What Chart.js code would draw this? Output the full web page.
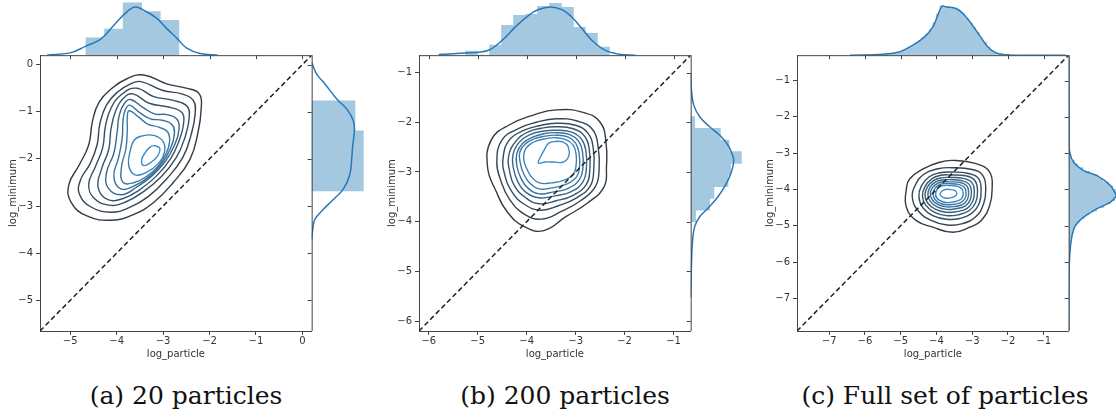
<!DOCTYPE html>
<html>
<head>
<meta charset="utf-8">
<script src="https://cdn.jsdelivr.net/npm/chart.js@4.4.1/dist/chart.umd.min.js"></script>
<style>
    html, body { margin: 0; padding: 0; background: #fff; width: 1116px; height: 417px; overflow: hidden; position: relative; }
    canvas { position: absolute; top: 0; }
    .caption { position: absolute; top: 382px; width: 372px; text-align: center; white-space: nowrap;
               font-family: "DejaVu Serif", serif; font-size: 25px; line-height: 28px; color: #111; }
</style>
</head>
<body>
<canvas id="chartA" width="372" height="365" style="left:-6px"></canvas>
<canvas id="chartB" width="372" height="365" style="left:373px"></canvas>
<canvas id="chartC" width="372" height="365" style="left:751px"></canvas>
<div class="caption" style="left:0px">(a) 20 particles</div>
<div class="caption" style="left:379px">(b) 200 particles</div>
<div class="caption" style="left:759px">(c) Full set of particles</div>
<script>
// ---- (a) 20 particles ----
const limA = [-5.65, 0.2];
const ticksA = [-5, -4, -3, -2, -1, 0];
const contoursA = [
    [[-3.42,-0.22],[-2.92,-0.41],[-2.5,-0.5],[-2.22,-0.62],[-2.18,-0.95],[-2.25,-1.45],[-2.42,-2.01],[-2.78,-2.5],[-3.21,-2.93],[-3.64,-3.18],[-4.1,-3.3],[-4.64,-3.21],[-4.98,-2.92],[-5.03,-2.55],[-4.8,-2.12],[-4.6,-1.7],[-4.52,-1.2],[-4.38,-0.8],[-4.1,-0.5],[-3.78,-0.3]],
    [[-3.48,-0.36],[-3.0,-0.55],[-2.6,-0.62],[-2.35,-0.76],[-2.31,-1.05],[-2.4,-1.5],[-2.58,-1.98],[-2.92,-2.42],[-3.32,-2.8],[-3.72,-3.03],[-4.12,-3.13],[-4.55,-3.02],[-4.8,-2.75],[-4.78,-2.45],[-4.57,-2.1],[-4.42,-1.7],[-4.36,-1.25],[-4.22,-0.86],[-3.98,-0.58],[-3.72,-0.42]],
    [[-3.58,-0.5],[-3.2,-0.68],[-2.78,-0.76],[-2.48,-0.89],[-2.44,-1.15],[-2.53,-1.55],[-2.72,-1.98],[-3.04,-2.38],[-3.43,-2.7],[-3.82,-2.92],[-4.17,-2.98],[-4.5,-2.82],[-4.6,-2.53],[-4.46,-2.17],[-4.3,-1.76],[-4.24,-1.3],[-4.12,-0.92],[-3.9,-0.64]],
    [[-3.65,-0.62],[-3.3,-0.82],[-2.88,-0.9],[-2.59,-1.02],[-2.56,-1.26],[-2.65,-1.6],[-2.84,-2.0],[-3.14,-2.36],[-3.5,-2.65],[-3.86,-2.84],[-4.2,-2.86],[-4.4,-2.6],[-4.32,-2.2],[-4.17,-1.8],[-4.12,-1.36],[-4.02,-0.98],[-3.86,-0.72]],
    [[-3.7,-0.74],[-3.42,-0.92],[-3.17,-1.05],[-2.92,-1.06],[-2.7,-1.16],[-2.66,-1.4],[-2.76,-1.72],[-2.95,-2.05],[-3.24,-2.36],[-3.57,-2.6],[-3.9,-2.76],[-4.18,-2.62],[-4.22,-2.3],[-4.06,-1.88],[-3.99,-1.44],[-3.94,-1.06],[-3.83,-0.82]],
    [[-3.72,-0.86],[-3.5,-1.02],[-3.27,-1.15],[-3.02,-1.18],[-2.8,-1.28],[-2.76,-1.5],[-2.85,-1.8],[-3.03,-2.1],[-3.28,-2.36],[-3.6,-2.56],[-3.9,-2.64],[-4.06,-2.38],[-3.96,-1.98],[-3.88,-1.56],[-3.86,-1.16],[-3.81,-0.95]],
    [[-3.73,-0.98],[-3.53,-1.11],[-3.33,-1.26],[-3.08,-1.33],[-2.9,-1.43],[-2.86,-1.64],[-2.94,-1.9],[-3.1,-2.15],[-3.34,-2.36],[-3.62,-2.5],[-3.86,-2.5],[-3.9,-2.2],[-3.8,-1.78],[-3.77,-1.36],[-3.77,-1.1]],
    [[-3.48,-1.52],[-3.2,-1.5],[-3.0,-1.63],[-2.97,-1.86],[-3.1,-2.1],[-3.35,-2.28],[-3.6,-2.34],[-3.74,-2.14],[-3.7,-1.8],[-3.62,-1.6]],
    [[-3.18,-1.72],[-3.07,-1.78],[-3.12,-1.94],[-3.27,-2.08],[-3.42,-2.14],[-3.46,-2.02],[-3.38,-1.86],[-3.28,-1.75]]
];
const topBinStartA = -4.66, topBinWidthA = 0.4;
const topHistA = [0.25, 0.375, 0.75, 0.625, 0.5];
const topKdeXA = [-5.5, -5.0, -4.66, -4.35, -4.03, -3.78, -3.6, -3.42, -3.14, -2.92, -2.7, -2.49, -2.2, -1.82];
const topKdeA = [0, 0.033, 0.13, 0.225, 0.45, 0.62, 0.69, 0.645, 0.53, 0.38, 0.24, 0.1, 0.024, 0];
const rightBinStartA = -2.68, rightBinWidthA = 0.638;
const rightHistA = [0.556, 0.556, 0.466];
const rightKdeYA = [0.05, -0.2, -0.41, -0.73, -0.94, -1.19, -1.4, -1.72, -2.0, -2.33, -2.64, -2.86, -3.07, -3.28, -3.5, -3.7];
const rightKdeA = [0, 0.054, 0.143, 0.27, 0.376, 0.448, 0.459, 0.441, 0.43, 0.41, 0.34, 0.233, 0.126, 0.035, 0.011, 0];

// ---- (b) 200 particles ----
const limB = [-6.2, -0.65];
const ticksB = [-6, -5, -4, -3, -2, -1];
const contoursB = [
    [[-3.4,-1.75],[-2.85,-1.8],[-2.5,-2.0],[-2.38,-2.4],[-2.37,-2.9],[-2.42,-3.3],[-2.75,-3.62],[-3.2,-3.9],[-3.65,-4.18],[-4.05,-4.1],[-4.4,-3.8],[-4.62,-3.4],[-4.8,-2.9],[-4.72,-2.35],[-4.35,-2.05],[-3.85,-1.85]],
    [[-3.4,-1.93],[-2.95,-1.98],[-2.65,-2.15],[-2.54,-2.5],[-2.52,-2.95],[-2.6,-3.3],[-2.9,-3.58],[-3.3,-3.8],[-3.7,-3.95],[-4.05,-3.85],[-4.35,-3.55],[-4.52,-3.2],[-4.61,-2.8],[-4.5,-2.35],[-4.15,-2.12],[-3.8,-2.0]],
    [[-3.4,-2.02],[-3.0,-2.06],[-2.75,-2.22],[-2.64,-2.52],[-2.63,-2.95],[-2.7,-3.28],[-2.98,-3.52],[-3.35,-3.68],[-3.72,-3.77],[-4.05,-3.65],[-4.3,-3.4],[-4.45,-3.05],[-4.48,-2.7],[-4.35,-2.35],[-4.05,-2.16],[-3.75,-2.07]],
    [[-3.4,-2.09],[-3.05,-2.13],[-2.82,-2.28],[-2.72,-2.55],[-2.71,-2.95],[-2.78,-3.25],[-3.05,-3.47],[-3.4,-3.58],[-3.75,-3.64],[-4.02,-3.52],[-4.25,-3.28],[-4.35,-2.98],[-4.37,-2.68],[-4.22,-2.38],[-3.98,-2.2],[-3.7,-2.12]],
    [[-3.4,-2.16],[-3.08,-2.2],[-2.88,-2.34],[-2.79,-2.58],[-2.78,-2.92],[-2.85,-3.2],[-3.1,-3.4],[-3.42,-3.48],[-3.75,-3.52],[-4.0,-3.42],[-4.18,-3.2],[-4.27,-2.93],[-4.28,-2.65],[-4.15,-2.4],[-3.93,-2.25],[-3.68,-2.18]],
    [[-3.4,-2.21],[-3.12,-2.25],[-2.94,-2.38],[-2.86,-2.6],[-2.85,-2.9],[-2.92,-3.15],[-3.15,-3.33],[-3.45,-3.4],[-3.75,-3.44],[-3.98,-3.32],[-4.12,-3.12],[-4.2,-2.88],[-4.2,-2.62],[-4.08,-2.42],[-3.88,-2.3],[-3.65,-2.23]],
    [[-3.4,-2.26],[-3.15,-2.3],[-3.0,-2.42],[-2.93,-2.62],[-2.92,-2.88],[-2.98,-3.1],[-3.2,-3.25],[-3.48,-3.32],[-3.75,-3.34],[-3.94,-3.22],[-4.06,-3.04],[-4.13,-2.82],[-4.14,-2.6],[-4.02,-2.43],[-3.84,-2.33],[-3.63,-2.28]],
    [[-3.42,-2.31],[-3.2,-2.35],[-3.05,-2.46],[-2.99,-2.65],[-2.99,-2.86],[-3.05,-3.05],[-3.25,-3.17],[-3.5,-3.22],[-3.74,-3.22],[-3.9,-3.1],[-4.0,-2.93],[-4.06,-2.75],[-4.04,-2.57],[-3.94,-2.45],[-3.78,-2.37],[-3.6,-2.33]],
    [[-3.45,-2.39],[-3.25,-2.4],[-3.15,-2.5],[-3.14,-2.68],[-3.25,-2.8],[-3.45,-2.8],[-3.62,-2.8],[-3.76,-2.82],[-3.72,-2.7],[-3.62,-2.52],[-3.55,-2.42]]
];
const topBinStartB = -5.25, topBinWidthB = 0.245;
const topHistB = [0.06, 0, 0.15, 0.45, 0.6, 0.615, 0.735, 0.78, 0.72, 0.42, 0.33, 0.12];
const topKdeXB = [-5.8, -5.18, -4.78, -4.5, -4.23, -3.96, -3.76, -3.52, -3.28, -3.08, -2.87, -2.67, -2.4, -2.12, -1.78];
const topKdeB = [0.01, 0.035, 0.075, 0.225, 0.425, 0.6, 0.686, 0.725, 0.686, 0.575, 0.4, 0.225, 0.075, 0.015, 0];
const rightBinStartB = -4.002, rightBinWidthB = 0.235;
const rightHistB = [0.076, 0.29, 0.356, 0.57, 0.61, 0.775, 0.586, 0.454, 0.061];
const rightKdeYB = [-1.01, -1.35, -1.65, -1.89, -2.09, -2.26, -2.46, -2.69, -2.79, -3.0, -3.23, -3.5, -3.73, -3.9, -4.1, -4.44, -4.91, -5.52];
const rightKdeB = [0, 0.011, 0.046, 0.138, 0.29, 0.443, 0.57, 0.647, 0.657, 0.622, 0.546, 0.417, 0.265, 0.138, 0.061, 0.026, 0.011, 0];

// ---- (c) full set ----
const limC = [-7.9, -0.3];
const ticksC = [-7, -6, -5, -4, -3, -2, -1];
const contoursC = [
    [[-3.54,-3.2],[-2.89,-3.29],[-2.51,-3.52],[-2.44,-3.98],[-2.51,-4.44],[-2.75,-4.86],[-3.07,-5.04],[-3.54,-5.18],[-4.1,-5.04],[-4.56,-4.86],[-4.84,-4.49],[-4.84,-3.98],[-4.75,-3.71],[-4.37,-3.43],[-3.91,-3.25]],
    [[-3.6,-3.4],[-3.0,-3.45],[-2.7,-3.62],[-2.62,-4.0],[-2.68,-4.4],[-2.9,-4.75],[-3.3,-4.95],[-3.7,-4.98],[-4.15,-4.85],[-4.5,-4.6],[-4.67,-4.25],[-4.6,-3.9],[-4.35,-3.58],[-3.95,-3.43]],
    [[-3.6,-3.52],[-3.1,-3.56],[-2.82,-3.7],[-2.75,-4.02],[-2.8,-4.38],[-3.0,-4.65],[-3.35,-4.8],[-3.72,-4.82],[-4.1,-4.72],[-4.38,-4.5],[-4.49,-4.2],[-4.42,-3.9],[-4.2,-3.65],[-3.9,-3.54]],
    [[-3.62,-3.6],[-3.15,-3.63],[-2.92,-3.76],[-2.85,-4.04],[-2.9,-4.35],[-3.08,-4.58],[-3.4,-4.7],[-3.72,-4.72],[-4.05,-4.63],[-4.3,-4.43],[-4.39,-4.18],[-4.32,-3.92],[-4.12,-3.7],[-3.88,-3.61]],
    [[-3.63,-3.67],[-3.22,-3.7],[-3.0,-3.82],[-2.94,-4.05],[-2.98,-4.32],[-3.14,-4.52],[-3.43,-4.61],[-3.72,-4.63],[-4.02,-4.55],[-4.24,-4.38],[-4.32,-4.16],[-4.25,-3.93],[-4.07,-3.75],[-3.86,-3.68]],
    [[-3.64,-3.73],[-3.28,-3.76],[-3.08,-3.86],[-3.02,-4.06],[-3.06,-4.3],[-3.2,-4.46],[-3.46,-4.53],[-3.72,-4.55],[-3.98,-4.48],[-4.17,-4.33],[-4.24,-4.14],[-4.18,-3.94],[-4.02,-3.79],[-3.84,-3.74]],
    [[-3.65,-3.79],[-3.33,-3.81],[-3.15,-3.9],[-3.1,-4.07],[-3.13,-4.27],[-3.26,-4.41],[-3.5,-4.47],[-3.72,-4.48],[-3.95,-4.42],[-4.11,-4.29],[-4.17,-4.12],[-4.11,-3.95],[-3.97,-3.83],[-3.82,-3.79]],
    [[-3.66,-3.84],[-3.38,-3.86],[-3.22,-3.94],[-3.17,-4.08],[-3.2,-4.25],[-3.32,-4.36],[-3.53,-4.41],[-3.73,-4.42],[-3.92,-4.37],[-4.05,-4.26],[-4.09,-4.11],[-4.04,-3.97],[-3.92,-3.87],[-3.8,-3.84]],
    [[-3.67,-3.89],[-3.43,-3.91],[-3.29,-3.98],[-3.25,-4.1],[-3.28,-4.23],[-3.39,-4.31],[-3.57,-4.35],[-3.74,-4.36],[-3.9,-4.31],[-4.0,-4.22],[-4.02,-4.1],[-3.97,-3.98],[-3.87,-3.91],[-3.77,-3.89]],
    [[-3.65,-4.0],[-3.48,-4.03],[-3.43,-4.12],[-3.5,-4.2],[-3.65,-4.24],[-3.82,-4.22],[-3.9,-4.13],[-3.84,-4.04],[-3.75,-4.0]]
];
const topBinStartC = -5.5, topBinWidthC = 0.1;
const topHistC = [0.01, 0.02, 0.02, 0.04, 0.05, 0.06, 0.08, 0.11, 0.14, 0.18, 0.21, 0.26, 0.31, 0.37, 0.47, 0.6, 0.72, 0.69, 0.7, 0.68, 0.67, 0.64, 0.6, 0.53, 0.47, 0.4, 0.33, 0.25, 0.19, 0.12, 0.07, 0.04, 0.02];
const topKdeXC = [-6.42, -5.49, -5.03, -4.66, -4.33, -4.1, -3.96, -3.84, -3.73, -3.45, -3.26, -3.03, -2.8, -2.56, -2.33, -1.96, -0.38];
const topKdeC = [0, 0.014, 0.048, 0.145, 0.265, 0.41, 0.58, 0.71, 0.7, 0.677, 0.604, 0.46, 0.29, 0.12, 0.033, 0.004, 0];
const rightBinStartC = -5.6, rightBinWidthC = 0.1;
const rightHistC = [0.02, 0.03, 0.04, 0.05, 0.07, 0.09, 0.12, 0.16, 0.23, 0.3, 0.41, 0.52, 0.61, 0.68, 0.71, 0.69, 0.65, 0.59, 0.5, 0.43, 0.31, 0.21, 0.13, 0.08, 0.04, 0.02, 0.01];
const rightKdeYC = [-0.3, -2.6, -2.97, -3.25, -3.48, -3.62, -3.89, -4.12, -4.18, -4.35, -4.53, -4.76, -4.99, -5.27, -5.82, -7.0, -7.87];
const rightKdeC = [0, 0.005, 0.015, 0.074, 0.22, 0.417, 0.614, 0.69, 0.7, 0.614, 0.417, 0.22, 0.1, 0.049, 0.015, 0, 0];

// styles
const contourColors = ['#353b40', '#36444f', '#364d5e', '#37566d', '#385f7c', '#39688b', '#3a719a', '#3a7aa9', '#3b83b8', '#3c8cc7'];
const kdeColor = '#2878b8';
const histColor = '#a5c8e1'; // steelblue at alpha 0.4 over white, opaque so bars don't seam
const spineColor = '#444';
const textColor = '#333';
const tickFont = { family: 'DejaVu Sans', size: 10 };

function minusLabel(v) {
    return v < 0 ? '\u2212' + Math.abs(v) : String(v); // matplotlib-style minus
}

// closes contour loops smoothly
const closeLoops = {
    id: 'closeLoops',
    afterDatasetUpdate(chart, args) {
        if (chart.data.datasets[args.index].closed && args.meta.dataset) {
            args.meta.dataset._loop = true;
            args.meta.dataset._fullLoop = true;
        }
    }
};

// spines of the marginal plots (top of main box and right side) with their ticks
const marginFrame = {
    id: 'marginFrame',
    afterDatasetsDraw(chart) {
        const ctx = chart.ctx;
        const x = chart.scales.x, y = chart.scales.y;
        ctx.save();
        ctx.strokeStyle = spineColor;
        ctx.lineWidth = 1;
        ctx.beginPath();
        ctx.moveTo(x.left, y.top + 0.5); ctx.lineTo(x.right, y.top + 0.5);
        ctx.moveTo(x.right + 0.5, y.top); ctx.lineTo(x.right + 0.5, y.bottom);
        x.ticks.forEach(t => {
            const px = Math.round(x.getPixelForValue(t.value)) + 0.5;
            ctx.moveTo(px, y.top); ctx.lineTo(px, y.top + 4);
        });
        y.ticks.forEach(t => {
            const py = Math.round(y.getPixelForValue(t.value)) + 0.5;
            ctx.moveTo(x.right, py); ctx.lineTo(x.right - 4, py);
        });
        ctx.stroke();
        ctx.restore();
    }
};

function makeChart(id, p) {
    const datasets = [];
    datasets.push({ // dashed diagonal y = x
        data: [{ x: p.lim[0], y: p.lim[0] }, { x: p.lim[1], y: p.lim[1] }],
        showLine: true, borderColor: '#222', borderWidth: 1.5, borderDash: [5, 3], pointRadius: 0,
        xAxisID: 'x', yAxisID: 'y'
    });
    p.contours.forEach((lvl, i) => {
        const c = contourColors[Math.round(i * (contourColors.length - 1) / (p.contours.length - 1))];
        datasets.push({
            data: lvl.map(pt => ({ x: pt[0], y: pt[1] })), closed: true,
            showLine: true, borderColor: c, borderWidth: 1.4, tension: 0.45, pointRadius: 0,
            xAxisID: 'x', yAxisID: 'y'
        });
    });
    datasets.push({ // top kde
        data: p.topKdeX.map((v, i) => ({ x: v, y: p.topKde[i] })),
        showLine: true, borderColor: kdeColor, borderWidth: 1.5, tension: 0.4, pointRadius: 0,
        xAxisID: 'x', yAxisID: 'yTop'
    });
    datasets.push({ // top histogram
        type: 'bar', grouped: false,
        data: p.topHist.map((d, i) => ({ x: p.topStart + (i + 0.5) * p.topWidth, y: d })),
        backgroundColor: histColor, borderWidth: 0, barPercentage: 1, categoryPercentage: 1,
        xAxisID: 'x', yAxisID: 'yTop'
    });
    datasets.push({ // right kde
        data: p.rightKdeY.map((v, i) => ({ x: p.rightKde[i], y: v })),
        showLine: true, borderColor: kdeColor, borderWidth: 1.5, tension: 0.4, pointRadius: 0,
        xAxisID: 'xRight', yAxisID: 'y'
    });
    datasets.push({ // right histogram
        type: 'bar', indexAxis: 'y', grouped: false,
        data: p.rightHist.map((d, i) => ({ y: p.rightStart + (i + 0.5) * p.rightWidth, x: d })),
        backgroundColor: histColor, borderWidth: 0, barPercentage: 1, categoryPercentage: 1,
        xAxisID: 'xRight', yAxisID: 'y'
    });

    const axisCommon = {
        type: 'linear', offset: false,
        min: p.lim[0], max: p.lim[1],
        afterBuildTicks: s => { s.ticks = p.ticks.map(v => ({ value: v })); },
        grid: { display: true, offset: false, drawOnChartArea: false, drawTicks: true, tickLength: 4, tickColor: spineColor, tickWidth: 1 },
        border: { display: true, color: spineColor, width: 1 }
    };
    const noPad = s => { s.paddingTop = 0; s.paddingBottom = 0; s.paddingLeft = 0; s.paddingRight = 0; };

    return new Chart(document.getElementById(id), {
        type: 'scatter',
        data: { datasets: datasets },
        options: {
            responsive: false,
            animation: false,
            events: [],
            layout: { padding: 0, autoPadding: false },
            plugins: { legend: { display: false }, tooltip: { enabled: false } },
            scales: {
                x: Object.assign({}, axisCommon, {
                    position: 'bottom', stack: 'h', stackWeight: 5, weight: 0,
                    afterFit: s => { s.height = 34; noPad(s); },
                    ticks: { callback: minusLabel, font: tickFont, color: textColor, padding: 0, maxRotation: 0, autoSkip: false },
                    title: { display: true, text: 'log_particle', font: tickFont, color: textColor, padding: { top: 0, bottom: 5 } }
                }),
                xRight: { type: 'linear', offset: false, position: 'bottom', stack: 'h', stackWeight: 1, weight: 1, min: 0, max: p.rightMax, display: false },
                y: Object.assign({}, axisCommon, {
                    position: 'left', stack: 'v', stackWeight: 5, weight: 0,
                    afterFit: s => { s.width = 46; noPad(s); },
                    ticks: { callback: minusLabel, font: tickFont, color: textColor, padding: 3, autoSkip: false },
                    title: { display: true, text: 'log_minimum', font: tickFont, color: textColor, padding: { top: 13, bottom: 0 } }
                }),
                yTop: { type: 'linear', offset: false, position: 'left', stack: 'v', stackWeight: 1, weight: 1, min: 0, max: p.topMax, display: false }
            }
        },
        plugins: [closeLoops, marginFrame]
    });
}

makeChart('chartA', {
    lim: limA, ticks: ticksA, contours: contoursA,
    topStart: topBinStartA, topWidth: topBinWidthA, topHist: topHistA, topKdeX: topKdeXA, topKde: topKdeA, topMax: 0.79,
    rightStart: rightBinStartA, rightWidth: rightBinWidthA, rightHist: rightHistA, rightKdeY: rightKdeYA, rightKde: rightKdeA, rightMax: 0.584
});
makeChart('chartB', {
    lim: limB, ticks: ticksB, contours: contoursB,
    topStart: topBinStartB, topWidth: topBinWidthB, topHist: topHistB, topKdeX: topKdeXB, topKde: topKdeB, topMax: 0.83,
    rightStart: rightBinStartB, rightWidth: rightBinWidthB, rightHist: rightHistB, rightKdeY: rightKdeYB, rightKde: rightKdeB, rightMax: 0.83
});
makeChart('chartC', {
    lim: limC, ticks: ticksC, contours: contoursC,
    topStart: topBinStartC, topWidth: topBinWidthC, topHist: topHistC, topKdeX: topKdeXC, topKde: topKdeC, topMax: 0.8,
    rightStart: rightBinStartC, rightWidth: rightBinWidthC, rightHist: rightHistC, rightKdeY: rightKdeYC, rightKde: rightKdeC, rightMax: 0.8
});
</script>
</body>
</html>
